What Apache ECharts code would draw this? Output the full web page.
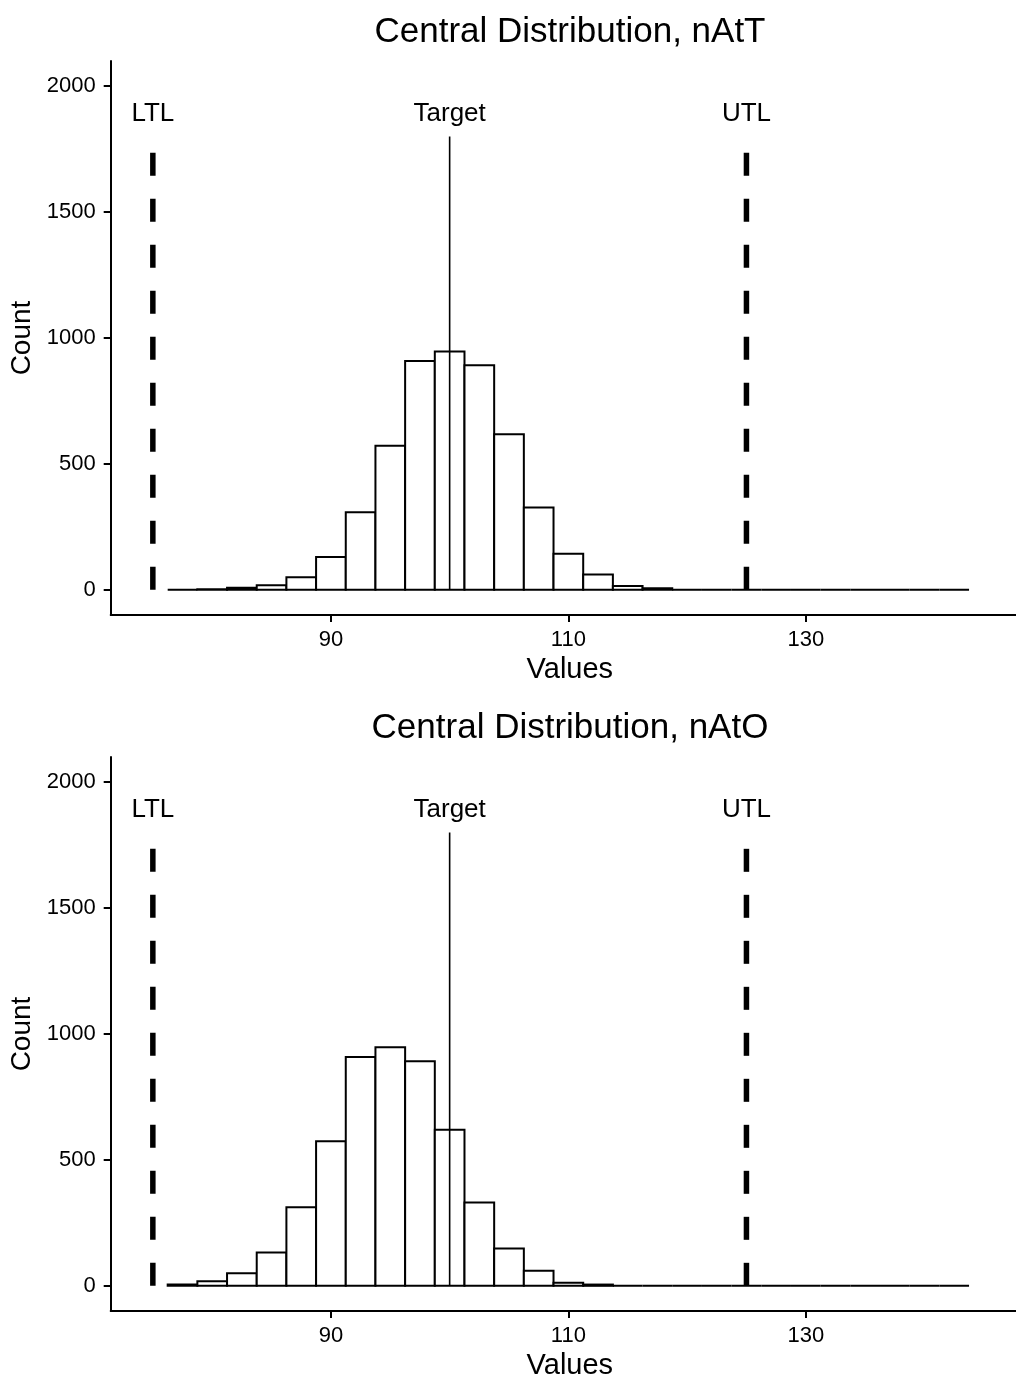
<!DOCTYPE html>
<html>
<head>
<meta charset="utf-8">
<title>Central Distribution</title>
<script src="https://cdn.jsdelivr.net/npm/echarts@6.0.0/dist/echarts.min.js"></script>
<style>
	html, body { margin: 0; padding: 0; background: #fff; }
	#chart { width: 1016px; height: 1380px; }
</style>
</head>
<body>
<div id="chart"></div>
<script>
/*---------- 数据 ----------*/
var binWidth = 2.5;
var binCenters = [77.5, 80, 82.5, 85, 87.5, 90, 92.5, 95, 97.5, 100, 102.5, 105, 107.5, 110,
	112.5, 115, 117.5, 120, 122.5, 125, 127.5, 130, 132.5, 135, 137.5, 140, 142.5];
var countsT = [0, 2, 8, 18, 50, 130, 308, 572, 909, 946, 892, 618, 327, 143,
	61, 15, 6, 0, 0, 0, 0, 0, 0, 0, 0, 0, 0];
var countsO = [5, 18, 50, 132, 312, 574, 909, 947, 892, 620, 331, 148, 60, 12,
	5, 0, 0, 0, 0, 0, 0, 0, 0, 0, 0, 0, 0];
var titles = ["Central Distribution, nAtT", "Central Distribution, nAtO"];
var limitNames = ["LTL", "Target", "UTL"];
var limitValues = [75, 100, 125];
var lineTop = 1800;
var labelY = 1890;
var xTicks = [90, 110, 130];
var yTicks = [0, 500, 1000, 1500, 2000];
/*-------------------------*/

var FONT = "Liberation Sans, Arial, sans-serif";
var panelTop = [61, 757];
var panelH = 554;

function histItem(params, api) {
	var c = api.value(0), n = api.value(1);
	var p0 = api.coord([c - binWidth / 2, n]);
	var p1 = api.coord([c + binWidth / 2, 0]);
	return {
		type: "rect",
		shape: { x: p0[0], y: p0[1], width: p1[0] - p0[0], height: p1[1] - p0[1] },
		style: { fill: "#ffffff", stroke: "#000000", lineWidth: 2 }
	};
}

function plain(v) {
	return String(v);
}

var grids = [], xAxes = [], yAxes = [], series = [], titleList = [];
var allCounts = [countsT, countsO];

for (var k = 0; k < 2; k++) {
	grids.push({
		left: 110.7, right: -13, top: panelTop[k], height: panelH,
		outerBoundsMode: "none", containLabel: false
	});
	titleList.push({
		text: titles[k],
		left: 570,
		textAlign: "center",
		top: panelTop[k] - 46,
		padding: 0,
		textStyle: { fontFamily: FONT, fontSize: 35, fontWeight: "normal", color: "#000" }
	});
	xAxes.push({
		type: "value", gridIndex: k, min: 71.45, max: 148.8,
		name: "Values", nameLocation: "middle", nameGap: 40,
		nameTextStyle: { fontFamily: FONT, fontSize: 29, color: "#000" },
		axisLine: { show: true, onZero: false, lineStyle: { color: "#000", width: 2 } },
		axisTick: { show: true, length: 7, customValues: xTicks, lineStyle: { color: "#000", width: 2 } },
		axisLabel: { customValues: xTicks, margin: 14, formatter: plain, fontFamily: FONT, fontSize: 22, color: "#000" },
		splitLine: { show: false }
	});
	yAxes.push({
		type: "value", gridIndex: k, min: -100, max: 2100,
		name: "Count", nameLocation: "middle", nameGap: 71,
		nameTextStyle: { fontFamily: FONT, fontSize: 28, color: "#000" },
		axisLine: { show: true, onZero: false, lineStyle: { color: "#000", width: 2 } },
		axisTick: { show: true, length: 7, customValues: yTicks, lineStyle: { color: "#000", width: 2 } },
		axisLabel: { customValues: yTicks, margin: 15, formatter: plain, fontFamily: FONT, fontSize: 22, color: "#000" },
		splitLine: { show: false }
	});

	var hist = [];
	for (var i = 0; i < binCenters.length; i++) {
		hist.push([binCenters[i], allCounts[k][i]]);
	}
	series.push({
		type: "custom", xAxisIndex: k, yAxisIndex: k,
		renderItem: histItem, data: hist, silent: true
	});

	for (var j = 0; j < limitValues.length; j++) {
		var isTarget = limitNames[j] === "Target";
		series.push({
			type: "line", xAxisIndex: k, yAxisIndex: k,
			data: [[limitValues[j], 0], [limitValues[j], lineTop]],
			showSymbol: false, silent: true,
			lineStyle: isTarget
				? { color: "#000", width: 1.6, type: "solid" }
				: { color: "#000", width: 5.5, type: [23, 23] }
		});
	}

	var labels = [];
	for (var j = 0; j < limitValues.length; j++) {
		labels.push({ value: [limitValues[j], labelY], name: limitNames[j] });
	}
	series.push({
		type: "scatter", xAxisIndex: k, yAxisIndex: k,
		symbolSize: 0, silent: true, data: labels,
		itemStyle: { opacity: 1, color: "#000" },
		label: {
			show: true, position: "inside", formatter: "{b}",
			fontFamily: FONT, fontSize: 26, color: "#000", opacity: 1
		}
	});
}

var myChart = echarts.init(document.getElementById("chart"));
myChart.setOption({
	animation: false,
	backgroundColor: "#ffffff",
	title: titleList,
	grid: grids,
	xAxis: xAxes,
	yAxis: yAxes,
	series: series
});
</script>
</body>
</html>
